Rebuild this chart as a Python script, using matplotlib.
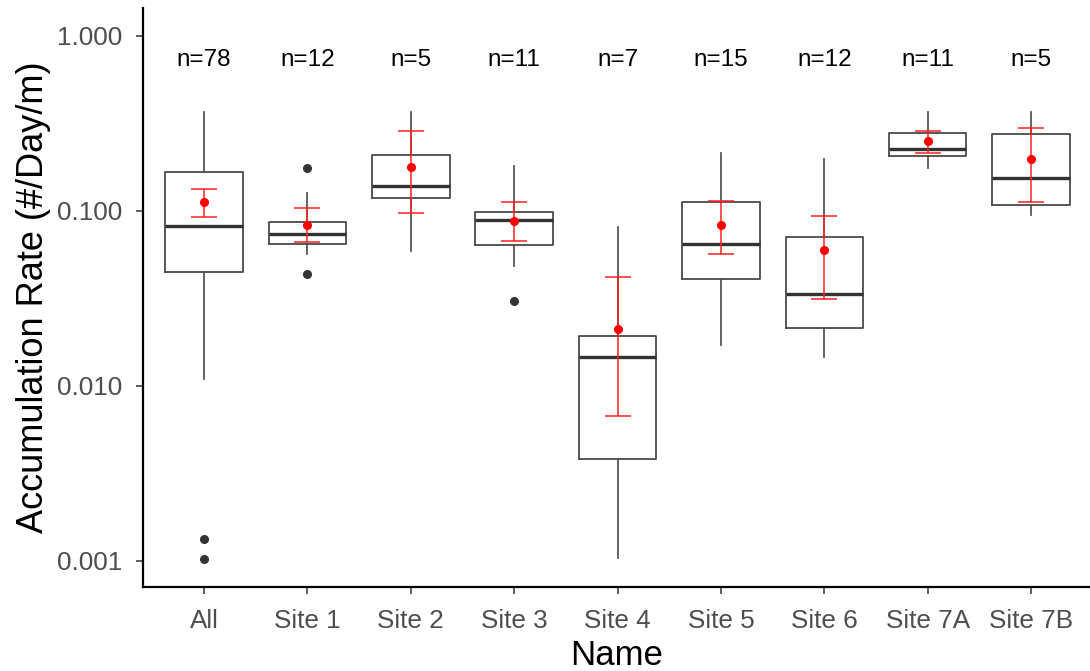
import matplotlib
matplotlib.use("Agg")
import matplotlib.pyplot as plt
import numpy as np

plt.rcParams["font.family"] = ["Liberation Sans", "DejaVu Sans"]

# Summary statistics per site (accumulation rate, #/Day/m)
names = ["All", "Site 1", "Site 2", "Site 3", "Site 4", "Site 5", "Site 6", "Site 7A", "Site 7B"]
counts = [78, 12, 5, 11, 7, 15, 12, 11, 5]
whisker_low = [0.0109, 0.0564, 0.0589, 0.0482, 0.00103, 0.0170, 0.0146, 0.1742, 0.0946]
q1 = [0.0447, 0.0646, 0.1174, 0.0635, 0.00379, 0.0404, 0.0212, 0.2057, 0.1071]
medians = [0.0818, 0.0737, 0.138, 0.0879, 0.01461, 0.0644, 0.0332, 0.2255, 0.1534]
q3 = [0.1667, 0.0857, 0.2084, 0.0985, 0.0192, 0.1119, 0.0709, 0.276, 0.2725]
whisker_high = [0.367, 0.1254, 0.367, 0.1796, 0.0802, 0.2139, 0.1963, 0.3656, 0.3656]
outliers = [[0.00133, 0.00102], [0.175, 0.0434], [], [0.0305], [], [], [], [], []]

# Mean with confidence interval
means = [0.1114, 0.083, 0.1779, 0.0875, 0.02095, 0.0826, 0.0594, 0.2485, 0.1977]
ci_low = [0.0922, 0.0658, 0.0968, 0.0672, 0.0067, 0.0564, 0.0312, 0.2132, 0.1114]
ci_high = [0.1327, 0.1038, 0.2857, 0.1119, 0.0418, 0.1138, 0.0930, 0.2857, 0.296]

label_y = 0.72

fig = plt.figure(figsize=(10.9, 6.71), dpi=100)
ax = fig.add_axes([143 / 1090, 1 - 587 / 671, 1 - 143 / 1090, (587 - 8) / 671])

stats = []
for i in range(len(names)):
    stats.append({
        "med": medians[i], "q1": q1[i], "q3": q3[i],
        "whislo": whisker_low[i], "whishi": whisker_high[i],
        "fliers": outliers[i], "label": names[i],
    })

positions = np.arange(1, len(names) + 1)
ax.bxp(stats, positions=positions, widths=0.75, showcaps=False,
       boxprops=dict(color="#4a4a4a", linewidth=1.3),
       whiskerprops=dict(color="#505050", linewidth=1.25),
       medianprops=dict(color="#333333", linewidth=2.4),
       flierprops=dict(marker="o", markerfacecolor="#333333", markeredgecolor="#333333",
                       markersize=5.5, linestyle="none"))

means_arr = np.array(means)
yerr = [means_arr - np.array(ci_low), np.array(ci_high) - means_arr]
ax.errorbar(positions, means, yerr=yerr, fmt="o", color="red", ecolor="#ff2020",
            elinewidth=1.1, capsize=9.5, capthick=1.1, markersize=5.5, zorder=5)

for x, n in zip(positions, counts):
    ax.text(x, label_y, f"n={n}", ha="center", va="center", fontsize=17.5, color="black")

ax.set_yscale("log")
ax.set_ylim(0.000706, 1.436)
ax.set_xlim(0.41, 9.57)
ax.set_yticks([1, 0.1, 0.01, 0.001])
ax.set_yticklabels(["1.000", "0.100", "0.010", "0.001"])
ax.yaxis.set_minor_locator(matplotlib.ticker.NullLocator())
ax.set_xticks(positions)
ax.set_xticklabels(names)

ax.tick_params(axis="both", labelsize=18.8, labelcolor="#4d4d4d", color="#333333",
               length=5, width=1.1)
ax.tick_params(axis="x", pad=11)
ax.tick_params(axis="y", pad=10)
ax.spines["top"].set_visible(False)
ax.spines["right"].set_visible(False)
ax.spines["left"].set_linewidth(1.6)
ax.spines["bottom"].set_linewidth(1.6)

ax.set_xlabel("Name", fontsize=25, labelpad=4)
ax.set_ylabel("Accumulation Rate (#/Day/m)", fontsize=26, labelpad=4)

fig.savefig("out.png", dpi=100)
